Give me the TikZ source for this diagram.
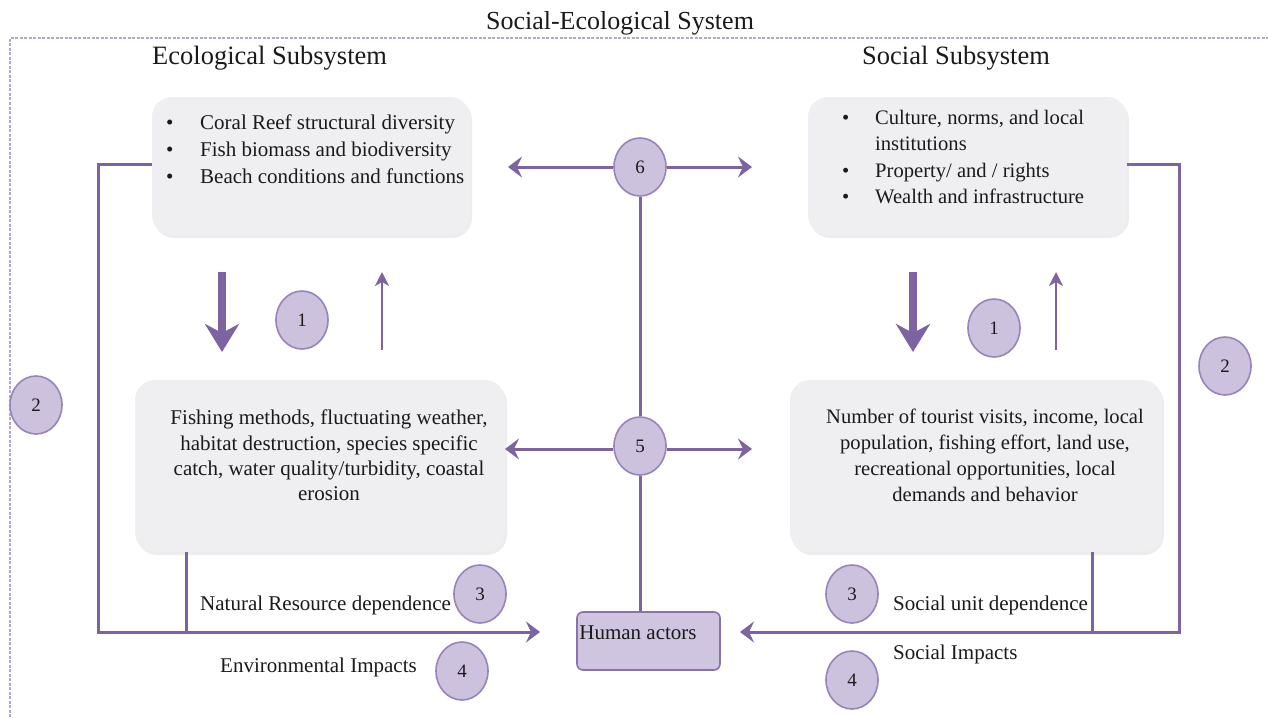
\documentclass[tikz,border=0pt]{standalone}
\usepackage{fontspec}
\setmainfont{Liberation Serif}
\usetikzlibrary{arrows.meta,shadows,shapes.geometric}
\definecolor{lnpurple}{HTML}{7E63A3}
\definecolor{dashpurple}{HTML}{B4A7CF}
\definecolor{circfill}{HTML}{CCC2DE}
\definecolor{circline}{HTML}{9883BA}
\definecolor{boxgray}{HTML}{EFEFF2}
\definecolor{humfill}{HTML}{CFC5E1}
\definecolor{humline}{HTML}{8A73AD}
\definecolor{inktext}{HTML}{1A1A1A}
\tikzset{
  panel/.style={draw=none, fill=boxgray, rounded corners=20pt, inner sep=0pt,
    drop shadow={opacity=0.14, shadow xshift=2pt, shadow yshift=-3pt}},
  num/.style={ellipse, draw=circline, fill=circfill, line width=1.6pt,
    minimum width=52pt, minimum height=58pt, inner sep=0pt, text=inktext,
    font=\fontsize{19}{22}\selectfont},
  bodytext/.style={inner sep=0pt, text=inktext, font=\fontsize{21}{26}\selectfont},
  headtext/.style={inner sep=0pt, text=inktext, font=\fontsize{26.5}{30}\selectfont},
  link/.style={draw=lnpurple, line width=3pt},
  arr/.style={link, -{Stealth[length=14pt,width=21pt,inset=5pt]}},
  thinarr/.style={draw=lnpurple, line width=2.2pt, -{Stealth[length=14pt,width=14pt,inset=4pt]}},
  bigarr/.style={draw=lnpurple, line width=8pt, -{Stealth[length=28pt,width=34pt,inset=9pt]}},
}
\begin{document}
\begin{tikzpicture}[x=1pt,y=-1pt]
\useasboundingbox (0,0) rectangle (1268,717);
% dashed system border
\draw[dashpurple, line width=1.6pt, dash pattern=on 3pt off 1.5pt] (10,717) -- (10,38) -- (1268,38);
% titles
\node[headtext, anchor=base, font=\fontsize{26}{30}\selectfont] (title) at (620,30) {Social-Ecological System};
\node[headtext, anchor=base west] (ecot) at (152,64) {Ecological Subsystem};
\node[headtext, anchor=base west] (soct) at (862,64) {Social Subsystem};
% panels
\node[panel, minimum width=318pt, minimum height=138pt] (boxA) at (311,166) {};
\node[panel, minimum width=319pt, minimum height=138pt] (boxB) at (967.5,166) {};
\node[panel, minimum width=370pt, minimum height=172pt] (boxC) at (320,466) {};
\node[panel, minimum width=372pt, minimum height=172pt] (boxD) at (976,466) {};
% panel texts
\node[bodytext, anchor=north west, font=\fontsize{21}{27}\selectfont] (txA) at (166,110) {%
  \begin{tabular}{@{}p{34pt}@{}l@{}}
  \textbullet & Coral Reef structural diversity\\
  \textbullet & Fish biomass and biodiversity\\
  \textbullet & Beach conditions and functions
  \end{tabular}};
\node[bodytext, anchor=north west, font=\fontsize{20.6}{26.3}\selectfont] (txB) at (842,106) {%
  \begin{tabular}{@{}p{33pt}@{}l@{}}
  \textbullet & Culture, norms, and local\\
   & institutions\\
  \textbullet & Property/ and / rights\\
  \textbullet & Wealth and infrastructure
  \end{tabular}};
\node[bodytext, anchor=north, font=\fontsize{21}{25.3}\selectfont] (txC) at (329,407) {%
  \begin{tabular}{@{}c@{}}
  Fishing methods, fluctuating weather,\\
  habitat destruction, species specific\\
  catch, water quality/turbidity, coastal\\
  erosion
  \end{tabular}};
\node[bodytext, anchor=north, font=\fontsize{20.6}{26}\selectfont] (txD) at (985,405) {%
  \begin{tabular}{@{}c@{}}
  Number of tourist visits, income, local\\
  population, fishing effort, land use,\\
  recreational opportunities, local\\
  demands and behavior
  \end{tabular}};
% human actors
\node[draw=humline, fill=humfill, line width=1.6pt, rounded corners=6pt,
  minimum width=143pt, minimum height=58pt, inner sep=0pt] (hum) at (648.5,641) {};
\node[bodytext, anchor=base] (humt) at (638,639) {Human actors};
% numbered circles
\node[num] (n6) at (640,167) {6};
\node[num] (n5) at (640,446) {5};
\node[num] (n1l) at (302,320) {1};
\node[num] (n1r) at (994,328) {1};
\node[num] (n2l) at (36,405) {2};
\node[num] (n2r) at (1225,366) {2};
\node[num] (n3l) at (480,594) {3};
\node[num] (n4l) at (462,671) {4};
\node[num] (n3r) at (852,594) {3};
\node[num] (n4r) at (852,680) {4};
% labels
\node[bodytext, anchor=base west] (lnr) at (200,610) {Natural Resource dependence};
\node[bodytext, anchor=base west] (lei) at (220,672) {Environmental Impacts};
\node[bodytext, anchor=base west] (lsu) at (893,610) {Social unit dependence};
\node[bodytext, anchor=base west] (lsi) at (893,659) {Social Impacts};
% coordinates
\coordinate (t6l) at (508,167);
\coordinate (t6r) at (752,167);
\coordinate (t5l) at (505,449);
\coordinate (t5r) at (752,449);
\coordinate (lc1) at (98,164);
\coordinate (lc2) at (98,632);
\coordinate (tl) at (540,632);
\coordinate (lcC) at (186,632);
\coordinate (rc1) at (1179,164);
\coordinate (rc2) at (1179,632);
\coordinate (tr) at (740,632);
\coordinate (rcD) at (1092,632);
\coordinate (dls) at (222,272);
\coordinate (dle) at (222,352);
\coordinate (uls) at (382,350);
\coordinate (ule) at (382,272);
\coordinate (drs) at (913,272);
\coordinate (dre) at (913,352);
\coordinate (urs) at (1056,350);
\coordinate (ure) at (1056,272);
% central spine
\draw[link] (n6.south) -- (n5.north);
\draw[link] (n5.south) -- (n5.south |- hum.north);
% arrows from 6 and 5
\draw[arr] (n6.west) -- (t6l);
\draw[arr] (n6.east) -- (t6r);
\draw[arr] ([yshift=-3pt]n5.west) -- (t5l);
\draw[arr] ([yshift=-3pt]n5.east) -- (t5r);
% left loop
\draw[link, line join=miter] (boxA.west |- lc1) -- (lc1) -- (lc2) -- (lcC);
\draw[arr] (lc2) -- (tl);
\draw[link] (boxC.south -| lcC) -- (lcC);
% right loop
\draw[link, line join=miter] (boxB.east |- rc1) -- (rc1) -- (rc2) -- (rcD);
\draw[arr] (rc2) -- (tr);
\draw[link] (boxD.south -| rcD) -- (rcD);
% vertical arrows
\draw[bigarr] (dls) -- (dle);
\draw[thinarr] (uls) -- (ule);
\draw[bigarr] (drs) -- (dre);
\draw[thinarr] (urs) -- (ure);
\end{tikzpicture}
\end{document}
